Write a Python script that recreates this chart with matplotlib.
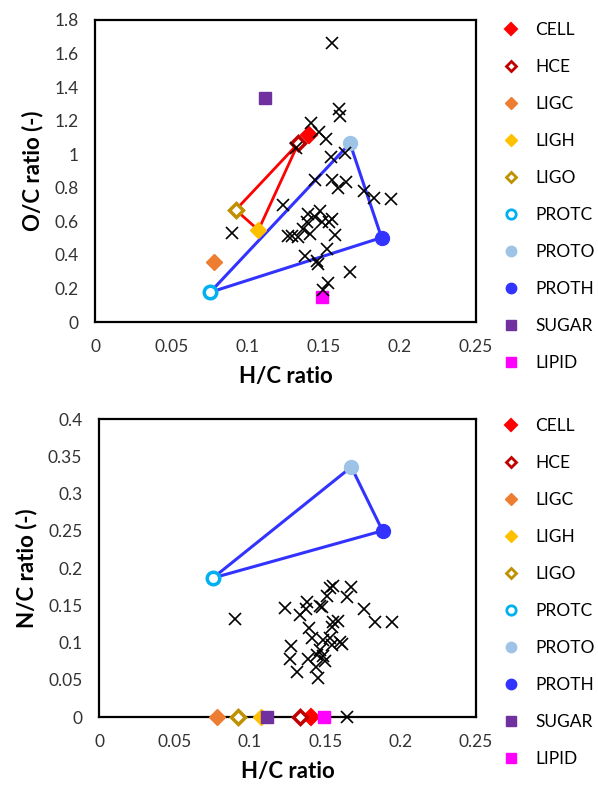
import matplotlib
matplotlib.use("Agg")
import matplotlib.pyplot as plt
from matplotlib.lines import Line2D

plt.rcParams['font.family'] = ['Lato', 'DejaVu Sans']

# reference components: H/C, O/C, N/C
names = ['CELL', 'HCE', 'LIGC', 'LIGH', 'LIGO', 'PROTC', 'PROTO', 'PROTH', 'SUGAR', 'LIPID']
ref_hc = [0.1405, 0.1334, 0.0783, 0.1072, 0.0923, 0.0755, 0.1673, 0.1880, 0.1115, 0.1490]
ref_oc = [1.115, 1.065, 0.360, 0.548, 0.668, 0.177, 1.065, 0.503, 1.333, 0.151]
ref_nc = [0.0, 0.0, 0.0, 0.0, 0.0, 0.1866, 0.3356, 0.2500, 0.0, 0.0]

# samples (O/C panel)
samp_hc_o = [0.1553, 0.1601, 0.1608, 0.1415, 0.1472, 0.1516, 0.1319, 0.1546, 0.1640,
             0.1444, 0.1553, 0.1597, 0.1647, 0.1765, 0.1831, 0.1940, 0.1236, 0.0897,
             0.1400, 0.1476, 0.1444, 0.1389, 0.1488, 0.1537, 0.1553, 0.1367, 0.1268,
             0.1291, 0.1334, 0.1411, 0.1575, 0.1524, 0.1378, 0.1455, 0.1465, 0.1673,
             0.1531, 0.1498]
samp_oc = [1.665, 1.268, 1.228, 1.184, 1.134, 1.089, 1.035, 0.985, 1.009,
           0.846, 0.846, 0.797, 0.833, 0.783, 0.737, 0.731, 0.697, 0.528,
           0.644, 0.663, 0.628, 0.598, 0.598, 0.598, 0.612, 0.552, 0.513,
           0.513, 0.508, 0.525, 0.519, 0.433, 0.393, 0.365, 0.346, 0.296,
           0.234, 0.191]

# samples (N/C panel)
samp_hc_n = [0.1554, 0.1532, 0.1669, 0.1647, 0.1510, 0.1377, 0.1233, 0.1466, 0.1477,
             0.1333, 0.1373, 0.1757, 0.1830, 0.1941, 0.1395, 0.1554, 0.1587, 0.1543,
             0.1410, 0.1487, 0.1532, 0.1598, 0.1609, 0.1543, 0.1271, 0.1466, 0.1444,
             0.1487, 0.1388, 0.1266, 0.1499, 0.1439, 0.1315, 0.1454, 0.1642, 0.0902]
samp_nc = [0.1758, 0.1727, 0.1749, 0.1607, 0.1624, 0.1548, 0.1459, 0.1490, 0.1472,
           0.1369, 0.1446, 0.1446, 0.1279, 0.1279, 0.1190, 0.1279, 0.1293, 0.1212,
           0.1056, 0.1034, 0.1056, 0.1011, 0.0980, 0.0966, 0.0953, 0.0899, 0.0832,
           0.0819, 0.0774, 0.0774, 0.0756, 0.0675, 0.0608, 0.0519, 0.0, 0.1310]

styles = {
    'CELL':  dict(marker='D', ms=8, mfc='#FF0000', mec='#FF0000', mew=1.5),
    'HCE':   dict(marker='D', ms=7, mfc='white', mec='#C00000', mew=2.5),
    'LIGC':  dict(marker='D', ms=8, mfc='#ED7D31', mec='#ED7D31', mew=1.0),
    'LIGH':  dict(marker='D', ms=8, mfc='#FFC000', mec='#FFC000', mew=1.0),
    'LIGO':  dict(marker='D', ms=7, mfc='white', mec='#BF9000', mew=2.5),
    'PROTC': dict(marker='o', ms=9, mfc='white', mec='#00B0F0', mew=2.5),
    'PROTO': dict(marker='o', ms=10, mfc='#9DC3E6', mec='#9DC3E6', mew=1.0),
    'PROTH': dict(marker='o', ms=10, mfc='#3333FF', mec='#3333FF', mew=1.0),
    'SUGAR': dict(marker='s', ms=9, mfc='#7030A0', mec='#7030A0', mew=1.0),
    'LIPID': dict(marker='s', ms=9, mfc='#FF00FF', mec='#FF00FF', mew=1.0),
}

fig = plt.figure(figsize=(5.98, 7.90), dpi=100)
ax1 = fig.add_axes([0.159, 0.5924, 0.637, 0.3823])
ax2 = fig.add_axes([0.1656, 0.0924, 0.6304, 0.3772])


def draw(ax, yvals, sx, sy, ymax, ystep, ylabel):
    idx = {n: i for i, n in enumerate(names)}
    # lignin / carbohydrate triangle
    tri_r = ['HCE', 'LIGO', 'LIGH', 'HCE']
    ax.plot([ref_hc[idx[n]] for n in tri_r], [yvals[idx[n]] for n in tri_r],
            color='#FF0000', lw=2, zorder=1)
    # protein triangle
    tri_b = ['PROTC', 'PROTO', 'PROTH', 'PROTC']
    ax.plot([ref_hc[idx[n]] for n in tri_b], [yvals[idx[n]] for n in tri_b],
            color='#3333FF', lw=2.2, zorder=1)
    for i, n in enumerate(names):
        ax.plot([ref_hc[i]], [yvals[i]], ls='none', zorder=3, clip_on=False, **styles[n])
    ax.plot(sx, sy, ls='none', marker='x', ms=8, mew=1.2, color='black', zorder=4, clip_on=False)
    ax.set_xlim(0, 0.25)
    ax.set_ylim(0, ymax)
    ax.set_xticks([0, 0.05, 0.1, 0.15, 0.2, 0.25])
    ax.set_xticklabels(['0', '0.05', '0.1', '0.15', '0.2', '0.25'])
    n_t = int(round(ymax / ystep)) + 1
    yt = [round(k * ystep, 3) for k in range(n_t)]
    ax.set_yticks(yt)
    ax.set_yticklabels(['0' if v == 0 else ('%g' % v) for v in yt])
    ax.tick_params(length=0, labelsize=12.5, pad=12, colors='#333333')
    for s in ax.spines.values():
        s.set_linewidth(1.6)
        s.set_color('black')
    ax.set_xlabel('H/C ratio', fontsize=16, fontweight='bold', labelpad=8)
    ax.set_ylabel(ylabel, fontsize=16, fontweight='bold', labelpad=8)


draw(ax1, ref_oc, samp_hc_o, samp_oc, 1.8, 0.2, 'O/C ratio (-)')
draw(ax2, ref_nc, samp_hc_n, samp_nc, 0.4, 0.05, 'N/C ratio (-)')

handles = []
for n in names:
    st = dict(styles[n])
    st['ms'] = st['ms'] * 0.75
    st['mew'] = min(st['mew'], 2.0)
    handles.append(Line2D([], [], ls='none', label=n, **st))

for ytop in [0.972, 0.471]:
    fig.legend(handles=handles, loc='upper left', bbox_to_anchor=(0.84, ytop),
               frameon=False, fontsize=12.5, labelspacing=1.21, handlelength=1.0,
               handletextpad=0.9, borderaxespad=0, borderpad=0)

fig.savefig('out.png', dpi=100)
